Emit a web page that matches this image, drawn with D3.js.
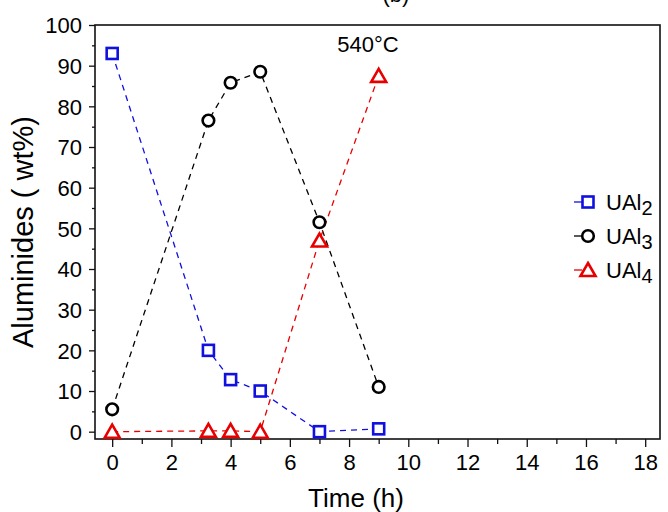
<!DOCTYPE html>
<html>
<head>
<meta charset="utf-8">
<script src="https://cdn.jsdelivr.net/npm/d3@7"></script>
<style>
  body { margin: 0; background: #fff; }
  svg { display: block; font-family: "Liberation Sans", Arial, sans-serif; }
</style>
</head>
<body>
<div id="chart"></div>
<script>
// données
const TIME   = [0, 3.25, 4, 5, 7, 9];
const UAL2   = [93, 20, 12.8, 10, 0, 0.7];
const UAL3   = [5.5, 76.5, 85.8, 88.5, 51.5, 11];
const UAL4   = [0, 0.2, 0.2, 0, 47, 87.5];
const X_TICKS = [0, 2, 4, 6, 8, 10, 12, 14, 16, 18];
const Y_TICKS = [0, 10, 20, 30, 40, 50, 60, 70, 80, 90, 100];

const W = 668, H = 512;
const m = { left: 95, right: 8, top: 25, bottom: 73 };

const SERIES = [
  { name: 'UAl', sub: '2', values: UAL2, color: '#1010e0', shape: 'square' },
  { name: 'UAl', sub: '3', values: UAL3, color: '#000000', shape: 'circle' },
  { name: 'UAl', sub: '4', values: UAL4, color: '#e80000', shape: 'triangle' }
];

const svg = d3.select('#chart').append('svg')
  .attr('width', W).attr('height', H);

const x = d3.scaleLinear().domain([-0.58, 18.5]).range([m.left, W - m.right]);
const y = d3.scaleLinear().domain([-1.8, 100]).range([H - m.bottom, m.top]);

// axes (ticks vers l'extérieur)
const xAxis = svg.append('g').attr('transform', `translate(0,${H - m.bottom})`);
xAxis.call(d3.axisBottom(x).tickValues(d3.range(0, 19, 1)).tickSize(5).tickFormat(''));
xAxis.call(g => g.selectAll('.tick').filter(d => X_TICKS.includes(d)).select('line').attr('y2', 8));
xAxis.selectAll('.tick').filter(d => X_TICKS.includes(d)).append('text')
  .attr('y', 31).attr('fill', '#000')
  .text(d => d);

const yAxis = svg.append('g').attr('transform', `translate(${m.left},0)`);
yAxis.call(d3.axisLeft(y).tickValues(d3.range(0, 101, 5)).tickSize(3).tickFormat(''));
yAxis.call(g => g.selectAll('.tick').filter(d => Y_TICKS.includes(d)).select('line').attr('x2', -6));
yAxis.selectAll('.tick').filter(d => Y_TICKS.includes(d)).append('text')
  .attr('x', -13).attr('dy', '0.35em').attr('text-anchor', 'end').attr('fill', '#000')
  .text(d => d);

svg.selectAll('.domain').remove();
svg.selectAll('.tick line').attr('stroke', '#111').attr('stroke-width', 1.3);
svg.selectAll('.tick text').attr('font-size', 22).attr('font-family', null);

// cadre
svg.append('rect')
  .attr('x', m.left).attr('y', m.top)
  .attr('width', W - m.left - m.right).attr('height', H - m.top - m.bottom)
  .attr('fill', 'none').attr('stroke', '#111').attr('stroke-width', 1.6);

// courbes pointillées
const line = d3.line().x((d, i) => x(TIME[i])).y(d => y(d));
SERIES.forEach(s => {
  svg.append('path')
    .datum(s.values)
    .attr('d', line)
    .attr('fill', 'none')
    .attr('stroke', s.color)
    .attr('stroke-width', 1.3)
    .attr('stroke-dasharray', '6,5');
});

function drawMarker(g, shape, color) {
  if (shape === 'square') {
    g.append('rect').attr('x', -5.5).attr('y', -5.5).attr('width', 11).attr('height', 11)
      .attr('fill', '#fff').attr('stroke', color).attr('stroke-width', 2.6);
  } else if (shape === 'circle') {
    g.append('circle').attr('r', 5.8)
      .attr('fill', '#fff').attr('stroke', color).attr('stroke-width', 2.6);
  } else {
    g.append('path').attr('d', 'M0,-7 L7.5,6 L-7.5,6 Z')
      .attr('fill', '#fff').attr('stroke', color).attr('stroke-width', 2.6)
      .attr('stroke-linejoin', 'miter');
  }
}

SERIES.forEach(s => {
  s.values.forEach((v, i) => {
    const g = svg.append('g').attr('transform', `translate(${x(TIME[i])},${y(v)})`);
    drawMarker(g, s.shape, s.color);
  });
});

// légende
SERIES.forEach((s, i) => {
  const ly = 202 + i * 34;
  svg.append('line')
    .attr('x1', 574).attr('x2', 582).attr('y1', ly).attr('y2', ly)
    .attr('stroke', s.color).attr('stroke-width', 1.3);
  const g = svg.append('g').attr('transform', `translate(588,${ly})`);
  drawMarker(g, s.shape, s.color);
  const t = svg.append('text').attr('x', 606).attr('y', ly + 8)
    .attr('font-size', 22).attr('fill', '#000');
  t.append('tspan').text(s.name);
  t.append('tspan').attr('dy', 5).attr('font-size', 20).text(s.sub);
});

// textes
svg.append('text').attr('x', 368).attr('y', 52).attr('text-anchor', 'middle')
  .attr('font-size', 22).text('540°C');
svg.append('text').attr('x', 396).attr('y', 2).attr('text-anchor', 'middle')
  .attr('font-size', 22).text('(b)');
svg.append('text').attr('x', 356).attr('y', 507).attr('text-anchor', 'middle')
  .attr('font-size', 26).text('Time (h)');
svg.append('text')
  .attr('transform', `translate(33,232) rotate(-90)`)
  .attr('text-anchor', 'middle').attr('font-size', 29)
  .text('Aluminides ( wt%)');
</script>
</body>
</html>
